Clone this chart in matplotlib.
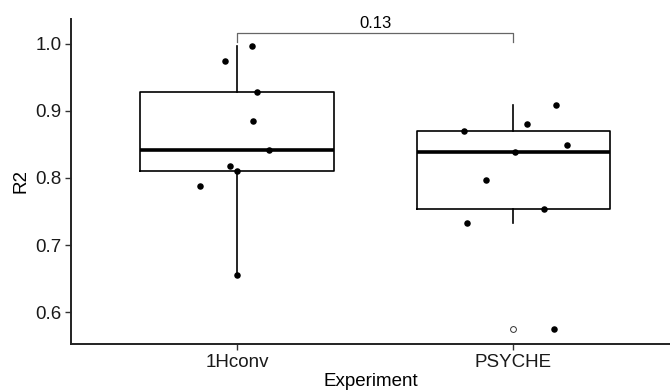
import numpy as np
import matplotlib.pyplot as plt

plt.rcParams['font.family'] = ['Liberation Sans', 'DejaVu Sans']

# R2 per sample, grouped by experiment
groups = ["1Hconv", "PSYCHE"]
r2_1hconv = [0.996, 0.974, 0.928, 0.885, 0.841, 0.818, 0.811, 0.788, 0.656]
r2_psyche = [0.870, 0.908, 0.881, 0.849, 0.838, 0.797, 0.753, 0.733, 0.575]
# horizontal jitter of the points (category units)
jit_1hconv = [0.055, -0.043, 0.071, 0.058, 0.117, -0.024, 0.001, -0.133, 0.002]
jit_psyche = [-0.179, 0.154, 0.050, 0.193, 0.004, -0.101, 0.111, -0.167, 0.145]
p_label = "0.13"

data = [r2_1hconv, r2_psyche]
jits = [jit_1hconv, jit_psyche]
pos = np.arange(1, len(groups) + 1)

fig = plt.figure(figsize=(6.7, 3.92), dpi=100)
ax = fig.add_axes([0.106, 0.123, 0.894, 0.829])

ax.boxplot(data, positions=pos, widths=0.7, whis=1.5,
           boxprops=dict(color='black', lw=1.2),
           whiskerprops=dict(color='black', lw=1.2),
           capprops=dict(visible=False),
           medianprops=dict(color='black', lw=2.6),
           flierprops=dict(marker='o', markersize=4.2, markerfacecolor='white',
                           markeredgecolor='#333333', markeredgewidth=0.7))

for p, vals, jj in zip(pos, data, jits):
    ax.scatter(p + np.array(jj), vals, s=22, color='black', zorder=3, lw=0)

# significance bracket
y_br, y_tip = 1.016, 1.002
ax.plot([pos[0], pos[0], pos[1], pos[1]], [y_tip, y_br, y_br, y_tip],
        color='#666666', lw=0.9, clip_on=False)
ax.text(pos.mean(), y_br + 0.003, p_label, ha='center', va='bottom', fontsize=12)

ax.set_xlim(0.4, 2.566)
ax.set_ylim(0.553, 1.037)
ax.set_yticks([0.6, 0.7, 0.8, 0.9, 1.0])
ax.set_yticklabels(["0.6", "0.7", "0.8", "0.9", "1.0"])
ax.set_xticks(pos)
ax.set_xticklabels(groups)
ax.tick_params(labelsize=13.5, length=4, width=1, colors='#333333', labelcolor='#1a1a1a', pad=3)

for s in ['top', 'right']:
    ax.spines[s].set_visible(False)
for s in ['left', 'bottom']:
    ax.spines[s].set_linewidth(1.4)
    ax.spines[s].set_color('#222222')

ax.set_xlabel("Experiment", fontsize=13.5, labelpad=2)
ax.set_ylabel("R2", fontsize=13.5, labelpad=4)

fig.savefig("out.png", dpi=100)
